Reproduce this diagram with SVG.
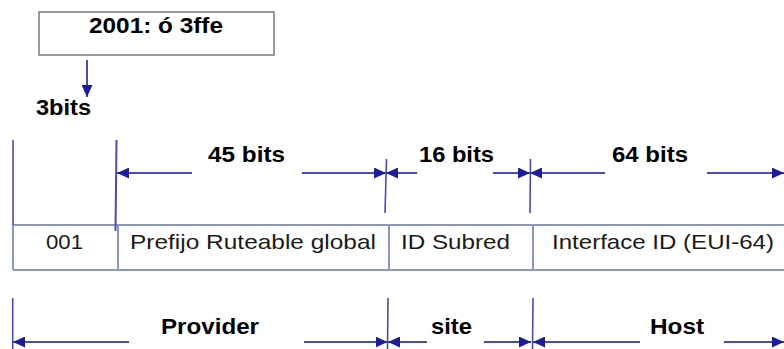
<svg xmlns="http://www.w3.org/2000/svg" width="784" height="349" viewBox="0 0 784 349">
<style>
.bold{font-family:"Liberation Sans",Arial,sans-serif;font-weight:bold;font-size:22px;fill:#000}
.cell{font-family:"Liberation Sans",Arial,sans-serif;font-size:21px;fill:#1a1a1a}
.dim{stroke:#4b4bb8;stroke-width:2;fill:none}
.ext{stroke:#4b4bb8;stroke-width:1.6;fill:none}
.tbl{stroke:#8a98c0;stroke-width:2;fill:none}
</style>
<defs>
<marker id="ah" viewBox="0 0 12 11" refX="12" refY="5.5" markerWidth="12" markerHeight="11" markerUnits="userSpaceOnUse" orient="auto">
<path d="M0,0 L12,5.5 L0,11 Z" fill="#1c1c9c"/>
</marker>
</defs>
<g id="top-box">
<rect x="39" y="12" width="235" height="43" fill="#fff" stroke="#7a7a7a" stroke-width="1.5"/>
<text class="bold" x="156" y="33" text-anchor="middle" textLength="134" lengthAdjust="spacingAndGlyphs">2001: ó 3ffe</text>
</g>
<g id="label-3bits">
<text class="bold" x="36" y="115" textLength="55" lengthAdjust="spacingAndGlyphs">3bits</text>
</g>
<g id="table">
<line class="tbl" x1="13" y1="225" x2="784" y2="225"/>
<line class="tbl" x1="13" y1="270" x2="784" y2="270"/>
<line class="tbl" x1="13" y1="225" x2="13" y2="270"/>
<line class="tbl" x1="118" y1="225" x2="118" y2="270"/>
<line class="tbl" x1="389" y1="225" x2="389" y2="270"/>
<line class="tbl" x1="533" y1="225" x2="533" y2="270"/>
</g>
<g id="cell-001"><text class="cell" x="64.5" y="249" text-anchor="middle" textLength="37" lengthAdjust="spacingAndGlyphs">001</text></g>
<g id="cell-prefijo"><text class="cell" x="130" y="249" textLength="246" lengthAdjust="spacingAndGlyphs">Prefijo Ruteable global</text></g>
<g id="cell-subred"><text class="cell" x="401" y="249" textLength="109" lengthAdjust="spacingAndGlyphs">ID Subred</text></g>
<g id="cell-interface"><text class="cell" x="552" y="249" textLength="222" lengthAdjust="spacingAndGlyphs">Interface ID (EUI-64)</text></g>
<g id="dim-labels">
<text class="bold" x="208" y="162" textLength="77" lengthAdjust="spacingAndGlyphs">45 bits</text>
<text class="bold" x="419" y="162" textLength="75" lengthAdjust="spacingAndGlyphs">16 bits</text>
<text class="bold" x="612" y="162" textLength="76" lengthAdjust="spacingAndGlyphs">64 bits</text>
<text class="bold" x="161" y="334" textLength="98" lengthAdjust="spacingAndGlyphs">Provider</text>
<text class="bold" x="431" y="334" textLength="41" lengthAdjust="spacingAndGlyphs">site</text>
<text class="bold" x="650" y="334" textLength="54" lengthAdjust="spacingAndGlyphs">Host</text>
</g>
<g id="connectors">
<line class="dim" x1="87" y1="60" x2="87" y2="97" marker-end="url(#ah)"/>
<line class="ext" x1="13" y1="140" x2="13" y2="225"/>
<line class="dim" x1="116.5" y1="140" x2="115.5" y2="231" stroke-width="2.2"/>
<line class="ext" x1="386.5" y1="159" x2="385" y2="213"/>
<line class="ext" x1="530.5" y1="159" x2="530" y2="213"/>
<line class="dim" x1="192" y1="173" x2="117" y2="173" marker-end="url(#ah)"/>
<line class="dim" x1="302" y1="173" x2="386" y2="173" marker-end="url(#ah)"/>
<line class="dim" x1="417" y1="173" x2="386" y2="173" marker-end="url(#ah)"/>
<line class="dim" x1="493" y1="173" x2="530" y2="173" marker-end="url(#ah)"/>
<line class="dim" x1="605" y1="173" x2="530" y2="173" marker-end="url(#ah)"/>
<line class="dim" x1="707" y1="173" x2="784" y2="173" marker-end="url(#ah)"/>
<line class="ext" x1="12.7" y1="298" x2="12.7" y2="349"/>
<line class="ext" x1="388" y1="298" x2="387.5" y2="349"/>
<line class="ext" x1="533" y1="298" x2="532.5" y2="349"/>
<line class="dim" x1="129" y1="342" x2="13" y2="342" marker-end="url(#ah)"/>
<line class="dim" x1="304" y1="342" x2="387.5" y2="342" marker-end="url(#ah)"/>
<line class="dim" x1="427" y1="342" x2="388" y2="342" marker-end="url(#ah)"/>
<line class="dim" x1="484" y1="342" x2="531" y2="342" marker-end="url(#ah)"/>
<line class="dim" x1="640" y1="342" x2="533" y2="342" marker-end="url(#ah)"/>
<line class="dim" x1="724" y1="342" x2="784" y2="342" marker-end="url(#ah)"/>
</g>
</svg>
